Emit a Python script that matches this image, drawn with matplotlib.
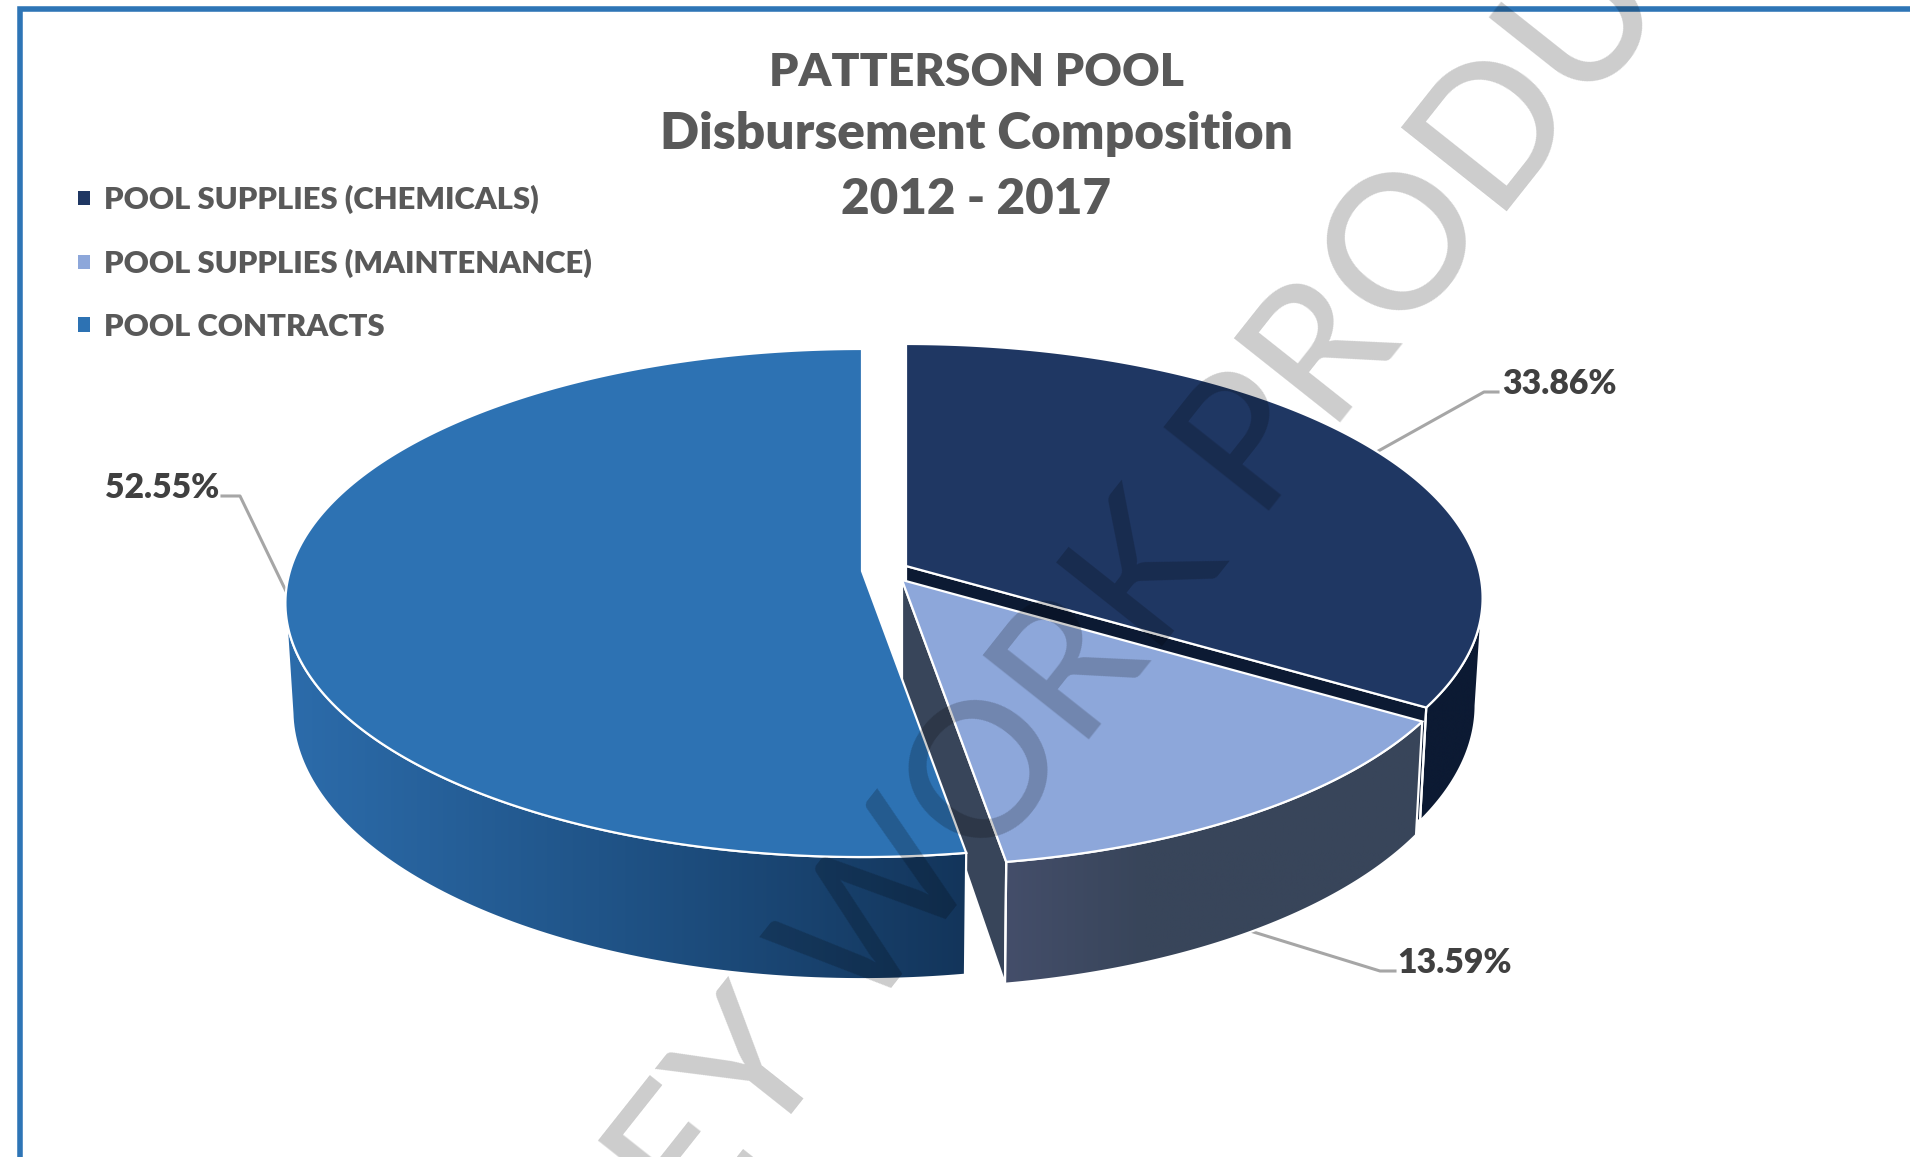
import numpy as np
import matplotlib
matplotlib.use('Agg')
import matplotlib.pyplot as plt
from matplotlib.colors import LinearSegmentedColormap
from matplotlib.patches import Polygon, Patch

# data
categories = ['POOL SUPPLIES (CHEMICALS)', 'POOL SUPPLIES (MAINTENANCE)', 'POOL CONTRACTS']
shares = [33.86, 13.59, 52.55]
title_lines = ['PATTERSON POOL', 'Disbursement Composition', '2012 - 2017']

top_colors = ['#1F3763', '#8DA7DA', '#2D72B3']
wall_colors = [['#0C1A33', '#0C1A33'], ['#444E6A', '#38455A', '#38455A', '#38455A'],
               ['#2C6CAB', '#1F5285', '#13355B']]
face_colors = ['#0C1A33', '#38455A', None]
apexes = [(906, 566), (902, 580), (862, 571)]
label_pos = [(1559, 384), (1455, 963), (162, 488)]
elbows = [[(1484, 392), (1498, 392)], [(1380, 971), (1395, 971)], [(240, 496), (222, 496)]]
title_y = [73, 134, 199]
title_size = [33.3, 37, 35.5]

# perspective disc, pixel units
R, S, K = 572, 250, 0.126
DEPTH, SHRINK_X, SCALE_Y = 105, 0.988, 1.06
GREY = '#595959'
FONT = 'Lato'


def project(theta, apex, bottom=False):
    u, v = np.sin(theta), np.cos(theta)
    w = 1 + K * v
    x, y = R * u / w, -S * v / w
    if bottom:
        x, y = x * SHRINK_X, y * SCALE_Y + DEPTH
    return apex[0] + x, apex[1] + y


fig = plt.figure(figsize=(19.10, 11.57), dpi=100, facecolor='white')
ax = fig.add_axes([0, 0, 1, 1])
ax.axis('off')

edges = np.radians(np.cumsum([0] + shares) * 3.6)
for i in range(len(shares)):
    apex = apexes[i]
    theta = np.linspace(edges[i], edges[i + 1], 200)

    # outer wall, only the part that faces the viewer
    front = theta[np.cos(theta) <= -K]
    tx, ty = project(front, apex)
    bx, by = project(front, apex, bottom=True)
    pts = np.r_[np.c_[tx, ty], np.c_[bx, by][::-1]]
    wall = Polygon(pts, closed=True, facecolor='none', edgecolor='white', lw=1.6, zorder=2 + 3 * i)
    ax.add_patch(wall)
    cmap = LinearSegmentedColormap.from_list('w%d' % i, wall_colors[i])
    im = ax.imshow(np.linspace(0, 1, 256)[None, :], cmap=cmap, aspect='auto', zorder=1 + 3 * i,
                   extent=[pts[:, 0].min(), pts[:, 0].max(), pts[:, 1].max(), pts[:, 1].min()])
    im.set_clip_path(Polygon(pts, closed=True, transform=ax.transData))

    # cut face of the slice, where it shows
    if face_colors[i]:
        ox, oy = project(edges[i + 1], apex)
        qx, qy = project(edges[i + 1], apex, bottom=True)
        face = [apex, (ox, oy), (qx, qy), (apex[0], apex[1] + DEPTH)]
        ax.add_patch(Polygon(face, closed=True, facecolor=face_colors[i], edgecolor='white', lw=1.6,
                             zorder=1 + 3 * i))

    # top of the slice
    tx, ty = project(theta, apex)
    ax.add_patch(Polygon(np.r_[[apex], np.c_[tx, ty]], closed=True, facecolor=top_colors[i],
                         edgecolor='white', lw=1.6, zorder=3 + 3 * i))

    # leader line starts at the middle of the slice
    mid = (edges[i] + edges[i + 1]) / 2
    sx, sy = project(mid, apex, bottom=(i == 1))
    lx = [sx] + [p[0] for p in elbows[i]]
    ly = [sy] + [p[1] for p in elbows[i]]
    ax.plot(lx, ly, color='#A6A6A6', lw=2.2, zorder=0.5)
    ax.text(label_pos[i][0], label_pos[i][1], '%.2f%%' % shares[i], color='#404040', family=FONT,
            fontweight='heavy', fontsize=24.3, ha='center', va='center', zorder=20)

for y, line, size in zip(title_y, title_lines, title_size):
    ax.text(976, y, line, color=GREY, family=FONT, fontweight='heavy', fontsize=size, ha='center', va='center')

# frame runs off the top right of the picture
ax.plot([19.5, 19.5, 1920], [1170, 8.5, 8.5], color='#2E75B6', lw=4, solid_joinstyle='miter', zorder=1)

handles = [Patch(facecolor=c) for c in top_colors]
ax.legend(handles, categories, loc='upper left', bbox_to_anchor=(78, 185), bbox_transform=ax.transData,
          frameon=False, borderpad=0, borderaxespad=0, handlelength=0.39, handleheight=0.33, handletextpad=0.45,
          labelspacing=1.12, labelcolor=GREY, prop={'family': FONT, 'weight': 'heavy', 'size': 22.3})

ax.text(977, 794, 'ATTORNEY WORK PRODUCT', rotation=51.6, rotation_mode='anchor', ha='center', va='center',
        family=FONT, fontweight=500, fontsize=135, color='black', alpha=0.2, zorder=30)

ax.set_xlim(0, 1910)
ax.set_ylim(1157, 0)
fig.savefig('out.png', dpi=100, facecolor='white')
